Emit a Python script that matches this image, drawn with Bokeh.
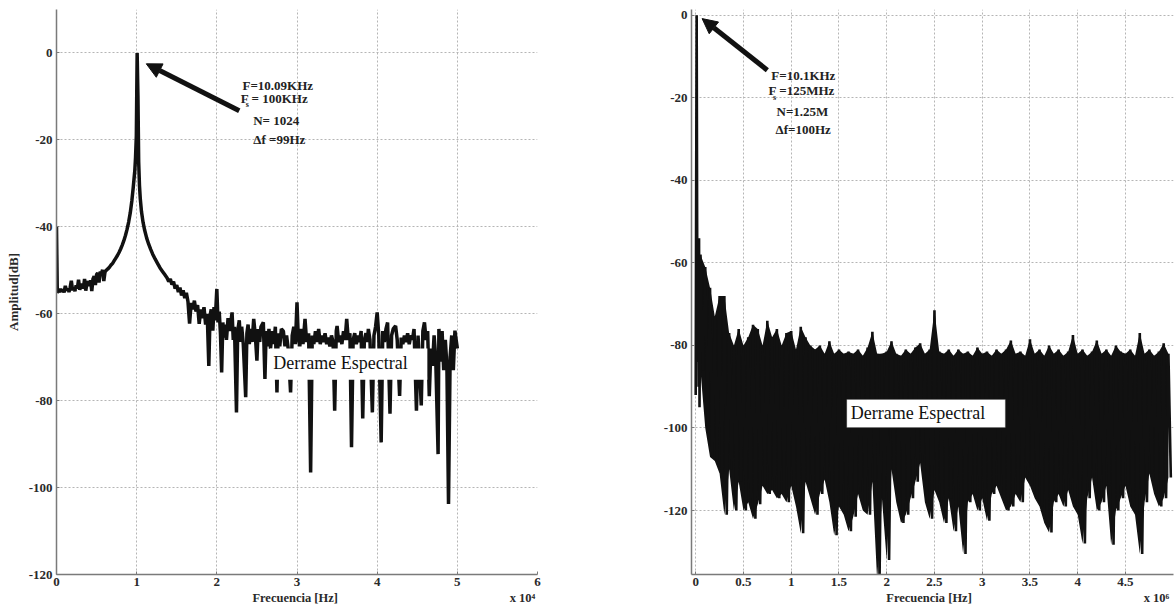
from bokeh.plotting import figure
from bokeh.layouts import row
from bokeh.models import FixedTicker, Label, Arrow, NormalHead, BoxAnnotation
from bokeh.embed import file_html
from bokeh.resources import INLINE

# ---------------- Left spectrum (N=1024, Fs=100 kHz) ----------------
left_freq_khz = [
    0, 0.1, 0.2, 0.35, 0.5, 0.65, 0.8, 0.95, 1.1, 1.25, 1.4, 1.55, 1.7, 1.85, 2.0, 2.15, 2.3, 2.45,
    2.6, 2.75, 2.9, 3.05, 3.2, 3.35, 3.5, 3.65, 3.8, 3.95, 4.1, 4.25, 4.4, 4.55, 4.7, 4.85, 5.0,
    5.15, 5.3, 5.45, 5.6, 5.75, 5.9, 6.05, 6.2, 6.4, 6.6, 6.8, 7.0, 7.2, 7.4, 7.6, 7.8, 8.0, 8.2,
    8.4, 8.6, 8.8, 9.0, 9.2, 9.4, 9.57, 9.67, 9.77, 9.86, 9.96, 10.06, 10.16, 10.25, 10.35, 10.45,
    10.6, 10.8, 11.0, 11.25, 11.5, 11.75, 12.0, 12.3, 12.6, 12.9, 13.2, 13.5, 13.8, 14.0, 14.2,
    14.4, 14.6, 14.8, 15.0, 15.2, 15.4, 15.6, 15.8, 16.0, 16.2, 16.4, 16.6, 16.8, 17.0, 17.2,
    17.4, 17.6, 17.8, 18.0, 18.2, 18.4, 18.6, 18.8, 19.0, 19.15, 19.3, 19.5, 19.65, 19.8, 20.0,
    20.15, 20.3, 20.45, 20.6, 20.75, 20.9, 21.05, 21.2, 21.4, 21.6, 21.9, 22.05, 22.2, 22.45,
    22.6, 22.8, 22.95, 23.1, 23.3, 23.6, 23.75, 23.9, 24.05, 24.2, 24.4, 24.6, 24.8, 25.0, 25.15,
    25.35, 25.5, 25.8, 26.0, 26.15, 26.35, 26.5, 26.7, 26.9, 27.1, 27.3, 27.5, 27.65, 27.85,
    28.05, 28.3, 28.5, 28.7, 28.9, 29.2, 29.4, 29.6, 29.8, 30.0, 30.15, 30.35, 30.55, 30.75,
    31.0, 31.2, 31.45, 31.7, 31.9, 32.1, 32.3, 32.5, 32.7, 32.9, 33.1, 33.3, 33.5, 33.7, 33.9,
    34.1, 34.3, 34.5, 34.7, 34.9, 35.0, 35.2, 35.4, 35.6, 35.8, 36.0, 36.2, 36.4, 36.6, 36.8,
    37.0, 37.2, 37.4, 37.6, 37.8, 38.0, 38.2, 38.4, 38.6, 38.8, 38.9, 39.1, 39.4, 39.6, 39.8,
    40.0, 40.2, 40.5, 40.7, 40.9, 41.1, 41.3, 41.6, 41.8, 42.0, 42.3, 42.5, 42.8, 43.0, 43.2,
    43.4, 43.6, 43.8, 44.0, 44.2, 44.4, 44.6, 44.9, 45.1, 45.5, 45.7, 45.9, 46.1, 46.3, 46.5,
    46.7, 46.9, 47.1, 47.3, 47.6, 47.7, 47.9, 48.1, 48.3, 48.5, 48.7, 48.9, 49.1, 49.3, 49.5,
    49.7, 49.85, 50.0,
]
left_amp_db = [
    -40.0, -55.2, -54.6, -55.0, -54.3, -54.9, -54.4, -55.1, -53.6, -54.7, -54.2, -55.0, -54.0, -52.4, -54.6, -54.0, -54.8, -53.5,
    -54.2, -52.2, -54.5, -53.6, -53.1, -54.2, -52.0, -54.7, -53.0, -52.6, -53.6, -52.3, -54.8, -52.0, -51.4, -53.4, -51.0,
    -50.6, -52.8, -50.3, -50.8, -49.9, -52.5, -50.4, -50.0, -49.7, -49.3, -48.8, -48.4, -47.8, -47.2, -46.6, -45.9, -45.1, -44.2,
    -43.2, -42.0, -40.6, -38.9, -36.8, -34.0, -31.0, -29.0, -27.0, -24.0, -19.0, 0.0, -10.0, -25.0, -30.5, -33.5,
    -36.5, -39.0, -40.8, -42.6, -44.0, -45.2, -46.3, -47.4, -48.4, -49.4, -50.2, -51.0, -51.8, -52.6, -52.0,
    -53.3, -52.6, -54.2, -53.4, -55.0, -54.0, -55.8, -54.6, -56.4, -55.2, -57.2, -62.3, -57.5, -59.0, -57.0,
    -59.5, -58.0, -62.3, -59.0, -61.0, -58.5, -62.5, -60.0, -72.0, -60.5, -59.0, -63.9, -58.5, -61.5, -54.3,
    -62.0, -59.5, -64.5, -73.5, -62.0, -65.5, -62.5, -66.0, -61.0, -64.0, -59.7, -66.0, -63.0, -82.7,
    -64.0, -61.5, -66.5, -63.0, -67.0, -79.2, -64.5, -62.5, -67.0, -63.5, -66.5, -61.2, -65.0, -70.8, -63.5,
    -66.5, -63.0, -62.0, -75.0, -64.0, -67.5, -63.5, -68.0, -64.0, -67.0, -63.0, -78.1, -64.5, -67.5,
    -63.5, -64.0, -67.5, -65.0, -68.0, -78.1, -65.0, -63.0, -67.0, -57.4, -65.0, -67.5, -63.5, -67.0,
    -61.2, -66.5, -64.5, -96.5, -65.0, -67.0, -64.0, -66.5, -63.5, -67.0, -65.0, -66.5, -64.5, -67.0, -65.5,
    -67.5, -65.0, -66.5, -82.3, -64.0, -62.8, -66.5, -65.0, -67.0, -64.0, -66.0, -61.2, -66.0, -64.5, -90.7,
    -66.0, -64.5, -67.0, -65.0, -66.5, -64.0, -84.1, -66.0, -64.5, -66.5, -63.5, -66.0, -82.7, -65.0, -63.0,
    -59.7, -65.0, -89.6, -64.0, -66.5, -63.5, -62.0, -83.0, -65.0, -63.5, -62.8, -66.0, -78.9, -65.5, -67.0,
    -65.0, -66.5, -64.5, -67.0, -65.0, -66.0, -63.5, -82.3, -65.0, -81.1, -64.0, -62.0, -66.0, -64.0, -79.0,
    -68.0, -72.0, -65.0, -70.0, -92.3, -63.5, -71.0, -64.0, -73.0, -66.0, -72.0, -103.8, -70.0, -65.0, -73.0,
    -63.9, -66.0, -68.0,
]

# ---------------- Right spectrum (N=1.25M, Fs=125 MHz) ----------------
# carrier region near 0 Hz
right_head_freq_mhz = [0.0, 0.005, 0.0101, 0.015, 0.02, 0.025, 0.03, 0.035, 0.04]
right_head_amp_db = [-92.0, -40.0, 0.0, -50.0, -84.0, -56.0, -90.0, -54.0, -95.0]

# leakage floor: per 0.05 MHz group of bins, upper (max) and lower (min) level
floor_step_mhz = 0.05
floor_upper_db = [
    -58, -61, -66, -73, -68, -68, -77, -80, -76, -80,
    -78, -75, -76, -80, -74, -78, -76, -80, -77, -76.5,
    -81, -75.5, -78, -80, -81, -80, -82, -79, -82, -81,
    -82, -81.5, -82, -81, -82.5, -80.5, -76.7, -82, -82, -81.5,
    -79, -82, -82.5, -81, -82, -80.5, -79.5, -82, -81, -71.5,
    -81.5, -82, -81, -82.5, -81, -82, -81.5, -82.5, -80.5, -82,
    -81.5, -82.5, -81, -82, -81, -78.8, -82, -81.5, -82.5, -78.5,
    -82, -81, -82.5, -80, -82, -81, -82.5, -81.5, -77.5, -82,
    -81, -82.5, -81.5, -78.8, -82, -81, -82.5, -80, -81.5, -82,
    -81, -82.5, -77, -82, -81, -82.5, -81.5, -79.5, -82,
]
floor_lower_db = [
    -86, -100, -107, -108, -111, -121, -110, -120, -113, -120,
    -118, -122, -118.5, -114, -116, -115, -117, -116, -118, -114,
    -119, -125.5, -113, -117, -121, -116, -112.5, -118, -126, -119,
    -121, -125, -121.5, -116, -120, -121, -113, -137, -117, -132,
    -110, -118, -123, -121, -117, -113, -108.5, -118, -122, -115,
    -118, -123, -117, -125, -119, -130.5, -118, -116, -120, -117,
    -122.5, -116, -114, -117, -120, -119, -116, -118, -112, -114,
    -117, -119, -123, -125.3, -118, -116, -119, -115, -119, -121,
    -128, -117, -112, -120, -118, -114, -128.3, -120, -117, -114,
    -119, -121, -130.5, -118, -111, -116, -119, -117, -112,
]

# ticks
left_xticks = [0, 10000, 20000, 30000, 40000, 50000, 60000]
left_xtick_labels = ["0", "1", "2", "3", "4", "5", "6"]
left_yticks = [-120, -100, -80, -60, -40, -20, 0]
right_xticks = [0, 500000, 1000000, 1500000, 2000000, 2500000, 3000000, 3500000, 4000000, 4500000]
right_xtick_labels = ["0", "0.5", "1", "1.5", "2", "2.5", "3", "3.5", "4", "4.5"]
right_yticks = [-120, -100, -80, -60, -40, -20, 0]

SERIF = "Liberation Serif"
INK = "#111111"
NB = "\u00a0"


def style(p, xticks, xlabels, yticks):
    p.background_fill_color = "white"
    p.border_fill_color = "white"
    p.outline_line_color = None
    for ax, ticks, labels in ((p.xaxis, xticks, xlabels), (p.yaxis, yticks, [str(t) for t in yticks])):
        ax.ticker = FixedTicker(ticks=ticks)
        ax.major_label_overrides = {t: l for t, l in zip(ticks, labels)}
        ax.axis_line_color = "#7a7a7a"
        ax.axis_line_width = 1.5
        ax.major_tick_in = 3
        ax.major_tick_out = 0
        ax.major_tick_line_color = "#7a7a7a"
        ax.minor_tick_line_color = None
        ax.major_label_text_font = SERIF
        ax.major_label_text_font_style = "bold"
        ax.major_label_text_font_size = "13px"
        ax.major_label_text_color = "#2a2a2a"
        ax.axis_label_text_font = SERIF
        ax.axis_label_text_font_style = "bold"
        ax.axis_label_text_font_size = "12.5px"
        ax.axis_label_text_color = "#2a2a2a"
    p.xaxis.major_label_standoff = 3
    p.xaxis.axis_label_standoff = 2
    p.yaxis.major_label_standoff = 4
    p.yaxis.axis_label_standoff = 5
    for g in (p.xgrid, p.ygrid):
        g.grid_line_color = "#b5b5b5"
        g.grid_line_dash = "2 2"
        g.grid_line_width = 1


def note(p, x, y, text, size="13px", align="center", style="bold", color="#222222"):
    p.add_layout(Label(x=x, y=y, text=text, text_font=SERIF, text_font_size=size,
                       text_font_style=style, text_color=color,
                       text_align=align, text_baseline="middle"))


def xlabel(pad_left, pad_mid, exponent):
    return NB * pad_left + "Frecuencia [Hz]" + NB * pad_mid + "x 10" + exponent


# ---------------- Left figure ----------------
p1 = figure(width=651, height=614, x_range=(0, 60000), y_range=(-120, 10),
            output_backend="svg", toolbar_location=None,
            min_border_left=56, min_border_right=114, min_border_top=9, min_border_bottom=40)
style(p1, left_xticks, left_xtick_labels, left_yticks)
p1.xaxis.axis_label = xlabel(62, 55, "\u2074")
p1.yaxis.axis_label = "Amplitud[dB]"
p1.yaxis.axis_label_text_font_size = "13px"
p1.line([f * 1000 for f in left_freq_khz], left_amp_db, line_color=INK, line_width=3.5)

p1.add_layout(BoxAnnotation(left=26630, right=46260, bottom=-75.2, top=-68.0,
                            fill_color="white", fill_alpha=1, line_color=None))
note(p1, 27050, -71.4, "Derrame Espectral", size="18px", align="left", style="normal", color=INK)
p1.add_layout(Arrow(end=NormalHead(size=15, fill_color=INK, line_color=INK),
                    x_start=22800, y_start=-13.3, x_end=11200, y_end=-2.5,
                    line_width=5, line_color=INK))
note(p1, 27600, -7.6, "F=10.09KHz")
note(p1, 27600, -10.4, "F   = 100KHz")
note(p1, 27400, -15.6, "N= 1024")
note(p1, 27800, -20.0, "\u0394f =99Hz")
note(p1, 23800, -11.9, "s", size="8px")

# ---------------- Right figure ----------------
p2 = figure(width=523, height=614, x_range=(-44000, 5003000), y_range=(-135.5, 1.4),
            output_backend="svg", toolbar_location=None,
            min_border_left=40, min_border_right=1, min_border_top=9, min_border_bottom=40)
style(p2, right_xticks, right_xtick_labels, right_yticks)
p2.xaxis.axis_label = xlabel(61, 55, "\u2076")

floor_freq_hz = [(k + 1) * floor_step_mhz * 1e6 for k in range(len(floor_upper_db))]
p2.varea(x=floor_freq_hz, y1=floor_upper_db, y2=floor_lower_db, fill_color=INK)

rx = [f * 1e6 for f in right_head_freq_mhz]
ry = list(right_head_amp_db)
for f, u, l in zip(floor_freq_hz, floor_upper_db, floor_lower_db):
    rx += [f, f + floor_step_mhz * 1e6 / 2]
    ry += [u, l]
p2.line(rx, ry, line_color=INK, line_width=2.6)

p2.add_layout(BoxAnnotation(left=1582000, right=3242000, bottom=-99.9, top=-93.1,
                            fill_color="white", fill_alpha=1, line_color="#555555", line_width=1))
note(p2, 1624000, -96.4, "Derrame Espectral", size="18px", align="left", style="normal", color=INK)
p2.add_layout(Arrow(end=NormalHead(size=15, fill_color=INK, line_color=INK),
                    x_start=750000, y_start=-13.3, x_end=67000, y_end=-0.8,
                    line_width=5, line_color=INK))
note(p2, 1127000, -14.5, "F=10.1KHz")
note(p2, 1127000, -18.3, "F  =125MHz")
note(p2, 1118000, -23.4, "N=1.25M")
note(p2, 1125000, -27.6, "\u0394f=100Hz")
note(p2, 825000, -19.9, "s", size="8px")

layout = row(p1, p2)
open("out.html", "w").write(file_html(layout, INLINE))
